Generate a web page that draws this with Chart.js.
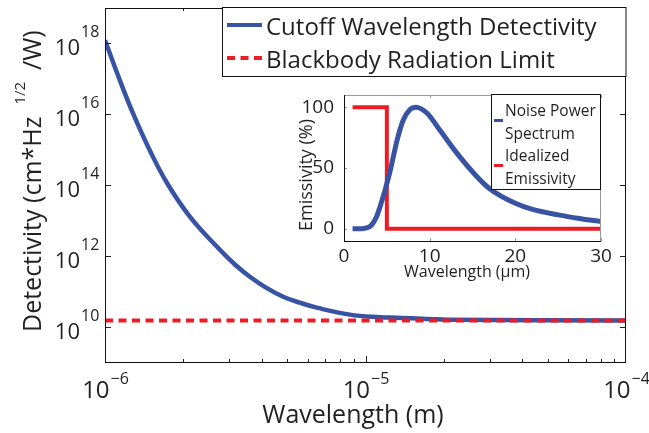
<!DOCTYPE html>
<html>
<head>
<meta charset="utf-8">
<script src="https://cdn.jsdelivr.net/npm/chart.js@4.4.1/dist/chart.umd.min.js"></script>
<style>
  html, body { margin: 0; padding: 0; background: #fff; }
  #wrap { position: relative; width: 649px; height: 433px; overflow: hidden; }
  #main { position: absolute; left: 0; top: 0; }
  #inset { position: absolute; left: 290px; top: 85px; }
</style>
</head>
<body>
<div id="wrap">
  <canvas id="main" width="649" height="433"></canvas>
  <canvas id="inset" width="325" height="205"></canvas>
</div>
<script>
// main plot data (wavelength in m, detectivity in cm*Hz^1/2/W)
const detWavelength = [1.0e-6, 1.14e-6, 1.28e-6, 1.49e-6, 1.73e-6, 2.12e-6, 2.76e-6, 3.16e-6, 3.6e-6, 4.15e-6,
  4.83e-6, 5.6e-6, 6.5e-6, 8.7e-6, 1.14e-5, 1.32e-5, 2.1e-5, 1.0e-4];
const detValues = [1.22e18, 9.1e16, 1.07e16, 9.1e14, 1.14e14, 1.26e13, 1.48e12, 5.6e11, 2.56e11, 1.26e11,
  7.0e10, 4.74e10, 3.43e10, 2.18e10, 1.85e10, 1.79e10, 1.57e10, 1.48e10];
const bbWavelength = [1.0e-6, 1.0e-4];
const bbValues = [1.48e10, 1.48e10];

const xTickExp = [-6, -5, -4];
const yTickExp = [10, 12, 14, 16, 18];
const mainLegend = ['Cutoff Wavelength Detectivity', 'Blackbody Radiation Limit'];

// inset data (wavelength in um, percent)
const noiseX = [1, 2, 2.5, 3.2, 3.8, 4.2, 4.8, 5.4, 6.2, 6.9, 7.7, 8.4, 9.7, 11.2, 13.2, 15.5, 17, 20, 22, 25, 27.5, 30];
const noiseY = [0, 0, 0.5, 3, 10, 18, 32, 48, 73, 89, 98, 100, 95, 81, 62, 43, 33, 21, 16, 11.5, 8.5, 6];
const emisX = [1, 5, 5, 30];
const emisY = [100, 100, 0, 0];
const insetXTicks = [0, 10, 20, 30];
const insetYTicks = [0, 50, 100];
const insetLegend = [['Noise Power', 'Spectrum'], ['Idealized', 'Emissivity']];

const BLUE = '#3853a4';
const RED = '#ed1c24';
const INK = '#231f20';
const FONT = "'Open Sans', sans-serif";

function pts(xs, ys) { return xs.map((v, i) => ({x: v, y: ys[i]})); }

function setFont(ctx, size) { ctx.font = size + 'px ' + FONT; }

function line(ctx, x1, y1, x2, y2) {
  ctx.beginPath(); ctx.moveTo(x1, y1); ctx.lineTo(x2, y2); ctx.stroke();
}

function expText(e) { return e < 0 ? '\u2212' + (-e) : String(e); }

const mainAxes = {
  id: 'mainAxes',
  afterDraw(chart) {
    const {ctx, chartArea: a, scales: {x, y}} = chart;
    ctx.save();
    ctx.strokeStyle = '#222';
    ctx.lineWidth = 1;
    // x ticks, major + minor, bottom and top, inside
    for (let e = -6; e < -4; e++) {
      for (let m = 1; m <= 9; m++) {
        const px = Math.round(x.getPixelForValue(m * Math.pow(10, e))) + 0.5;
        const len = m === 1 ? 6 : 3;
        line(ctx, px, a.bottom, px, a.bottom - len);
        line(ctx, px, a.top, px, a.top + len);
      }
    }
    yTickExp.forEach(e => {
      const py = Math.round(y.getPixelForValue(Math.pow(10, e))) + 0.5;
      line(ctx, a.left, py, a.left + 6, py);
      line(ctx, a.right, py, a.right - 6, py);
    });
    ctx.strokeStyle = '#111';
    ctx.strokeRect(a.left + 0.5, a.top + 0.5, a.right - a.left - 1, a.bottom - a.top);

    ctx.fillStyle = INK;
    ctx.textBaseline = 'alphabetic';
    // y tick labels: 10 with superscript
    yTickExp.forEach(e => {
      const py = y.getPixelForValue(Math.pow(10, e));
      setFont(ctx, 22); ctx.textAlign = 'right';
      ctx.fillText('10', 80, py + 12);
      setFont(ctx, 16); ctx.textAlign = 'left';
      ctx.fillText(expText(e), 81, py - 6);
    });
    // x tick labels
    xTickExp.forEach(e => {
      const px = x.getPixelForValue(Math.pow(10, e));
      setFont(ctx, 24);
      const w1 = ctx.measureText('10').width;
      setFont(ctx, 16);
      const w2 = ctx.measureText(expText(e)).width;
      const s = px - (w1 + w2) / 2;
      ctx.textAlign = 'left';
      setFont(ctx, 24); ctx.fillText('10', s, 398);
      setFont(ctx, 16); ctx.fillText(expText(e), s + w1 + 1, 384);
    });
    // axis titles
    setFont(ctx, 25); ctx.textAlign = 'center';
    ctx.fillText('Wavelength (m)', 353, 423);
    ctx.save();
    ctx.translate(41, 332);
    ctx.rotate(-Math.PI / 2);
    ctx.textAlign = 'left';
    setFont(ctx, 25);
    const t1 = 'Detectivity (cm*Hz';
    ctx.fillText(t1, 0, 0);
    let s = ctx.measureText(t1).width + 12;
    setFont(ctx, 15);
    ctx.fillText('1/2', s, -16);
    s += ctx.measureText('1/2').width + 12;
    setFont(ctx, 25);
    ctx.fillText('/W)', s, 0);
    ctx.restore();

    // legend
    ctx.fillStyle = '#fff';
    ctx.fillRect(222.5, 7.5, 626 - 222.5, 69);
    ctx.strokeStyle = '#111';
    ctx.strokeRect(222.5, 7.5, 626 - 222.5, 69);
    ctx.lineWidth = 4;
    ctx.strokeStyle = BLUE;
    line(ctx, 227, 25, 262, 25);
    ctx.strokeStyle = RED;
    ctx.setLineDash([8, 5.5]);
    line(ctx, 227, 58, 262, 58);
    ctx.setLineDash([]);
    ctx.fillStyle = INK;
    setFont(ctx, 24); ctx.textAlign = 'left';
    ctx.fillText(mainLegend[0], 266, 35);
    ctx.fillText(mainLegend[1], 266, 68);
    ctx.restore();
  }
};

new Chart(document.getElementById('main'), {
  type: 'line',
  data: {
    datasets: [{
      label: mainLegend[0],
      data: pts(detWavelength, detValues),
      borderColor: BLUE,
      borderWidth: 4.5,
      pointRadius: 0,
      tension: 0.4,
      order: 1
    }, {
      label: mainLegend[1],
      data: pts(bbWavelength, bbValues),
      borderColor: RED,
      borderWidth: 4,
      borderDash: [8, 5.5],
      pointRadius: 0,
      order: 0
    }]
  },
  options: {
    responsive: false,
    animation: false,
    layout: {padding: {top: 8, right: 23, left: 0, bottom: 0}},
    plugins: {legend: {display: false}, tooltip: {enabled: false}},
    scales: {
      x: {
        type: 'logarithmic', min: 1e-6, max: 1e-4,
        ticks: {display: false}, grid: {display: false}, border: {display: false},
        afterFit: s => { s.height = 71; }
      },
      y: {
        type: 'logarithmic', min: 1e9, max: 1e19,
        ticks: {display: false}, grid: {display: false}, border: {display: false},
        afterFit: s => { s.width = 105; }
      }
    }
  },
  plugins: [mainAxes]
});

const insetAxes = {
  id: 'insetAxes',
  beforeDraw(chart) {
    const {ctx, chartArea: a} = chart;
    ctx.save();
    ctx.fillStyle = '#fff';
    ctx.fillRect(a.left, a.top, a.right - a.left, a.bottom - a.top);
    ctx.restore();
  },
  afterDraw(chart) {
    const {ctx, chartArea: a, scales: {x, y}} = chart;
    ctx.save();
    ctx.lineWidth = 1;
    ctx.strokeStyle = '#999';
    insetXTicks.forEach(v => {
      const px = Math.round(x.getPixelForValue(v)) + 0.5;
      line(ctx, px, a.bottom, px, a.bottom - 3);
      line(ctx, px, a.top, px, a.top + 3);
    });
    insetYTicks.forEach(v => {
      const py = Math.round(y.getPixelForValue(v)) + 0.5;
      line(ctx, a.left, py, a.left + 3, py);
    });
    line(ctx, a.left, a.top + 0.5, a.right, a.top + 0.5);
    line(ctx, a.right - 0.5, a.top, a.right - 0.5, a.bottom);
    ctx.strokeStyle = '#111';
    line(ctx, a.left + 0.5, a.top, a.left + 0.5, a.bottom + 0.5);
    line(ctx, a.left, a.bottom + 0.5, a.right, a.bottom + 0.5);

    ctx.fillStyle = INK;
    setFont(ctx, 19);
    ctx.textAlign = 'right'; ctx.textBaseline = 'middle';
    insetYTicks.forEach(v => ctx.fillText(String(v), 44, y.getPixelForValue(v)));
    ctx.textAlign = 'center'; ctx.textBaseline = 'alphabetic';
    insetXTicks.forEach(v => ctx.fillText(String(v), x.getPixelForValue(v), 177));
    setFont(ctx, 16);
    ctx.fillText('Wavelength (\u03bcm)', 177, 192);
    ctx.save();
    ctx.translate(22, 90);
    ctx.rotate(-Math.PI / 2);
    setFont(ctx, 18);
    ctx.fillText('Emissivity (%)', 0, 0);
    ctx.restore();

    // legend box in the top right corner
    const lx = 201.5, ly = 9.5, lw = 109, lh = 95;
    ctx.fillStyle = '#fff';
    ctx.fillRect(lx, ly, lw, lh);
    ctx.strokeStyle = '#111';
    ctx.strokeRect(lx, ly, lw, lh);
    ctx.lineWidth = 3;
    ctx.strokeStyle = BLUE; line(ctx, 204, 35.5, 213, 35.5);
    ctx.strokeStyle = RED; line(ctx, 204, 80.5, 213, 80.5);
    ctx.fillStyle = INK;
    setFont(ctx, 15.5); ctx.textAlign = 'left';
    ctx.fillText(insetLegend[0][0], 215, 31);
    ctx.fillText(insetLegend[0][1], 215, 54);
    ctx.fillText(insetLegend[1][0], 215, 76);
    ctx.fillText(insetLegend[1][1], 215, 99);
    ctx.restore();
  }
};

new Chart(document.getElementById('inset'), {
  type: 'line',
  data: {
    datasets: [{
      label: 'Noise Power Spectrum',
      data: pts(noiseX, noiseY),
      borderColor: BLUE,
      borderWidth: 5,
      pointRadius: 0,
      tension: 0.4,
      cubicInterpolationMode: 'monotone'
    }, {
      label: 'Idealized Emissivity',
      data: pts(emisX, emisY),
      borderColor: RED,
      borderWidth: 4,
      pointRadius: 0,
      tension: 0
    }]
  },
  options: {
    responsive: false,
    animation: false,
    layout: {padding: {top: 10, right: 14, left: 0, bottom: 0}},
    plugins: {legend: {display: false}, tooltip: {enabled: false}},
    scales: {
      x: {
        type: 'linear', min: 0, max: 30,
        ticks: {display: false}, grid: {display: false}, border: {display: false},
        afterFit: s => { s.height = 49; }
      },
      y: {
        type: 'linear', min: -10, max: 110,
        ticks: {display: false}, grid: {display: false}, border: {display: false},
        afterFit: s => { s.width = 54; }
      }
    }
  },
  plugins: [insetAxes]
});
</script>
</body>
</html>
